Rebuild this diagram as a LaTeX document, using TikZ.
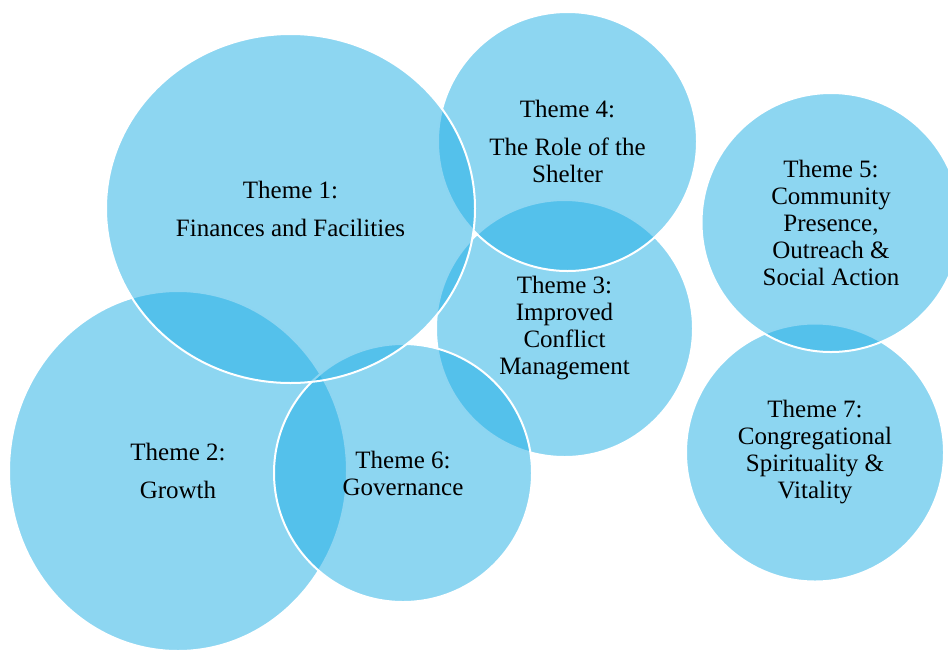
\documentclass[tikz,border=0pt]{standalone}
\usepackage{fontspec}
\setmainfont{Liberation Serif}
\usepackage{tikz}
\usetikzlibrary{shapes.geometric}

\definecolor{themeblue}{RGB}{28,173,228}

\tikzset{
  theme/.style={draw=white, line width=1.5pt, fill=themeblue, fill opacity=0.5,
    text opacity=1, text=black, inner sep=0pt, align=center,
    font=\fontsize{18.75}{20.25}\selectfont},
  round theme/.style={theme, circle, minimum size=#1},
  oval theme/.style={theme, ellipse}
}

\begin{document}
\begin{tikzpicture}[x=0.75pt,y=-0.75pt]

    \useasboundingbox (0,0) rectangle (948,650);

    % Right hand pair
    \node[round theme=193.5pt] (t7) at (815,452.5)
      {Theme 7:\\Congregational\\Spirituality \&\\Vitality};
    \node[round theme=194.25pt] (t5) at (831,222.5)
      {Theme 5:\\Community\\Presence,\\Outreach \&\\Social Action};

    % Theme 2, drawn as an oval
    \node[oval theme, minimum width=253.5pt, minimum height=270pt] (t2) at (178,471)
      {Theme 2:\\[8.25pt]Growth};

    % Middle group
    \node[round theme=192.75pt] (t3) at (564.5,328.5)
      {Theme 3:\\Improved\\Conflict\\Management};
    \node[round theme=193.5pt] (t6) at (403,473)
      {Theme 6:\\Governance};
    \node[round theme=194.25pt] (t4) at (567.5,141.5)
      {Theme 4:\\[8.25pt]The Role of the\\Shelter};

    % Theme 1 on top of the others
    \node[oval theme, minimum width=276.75pt, minimum height=261.75pt] (t1) at (290.5,208.5)
      {Theme 1:\\[8.25pt]Finances and Facilities};

\end{tikzpicture}
\end{document}
